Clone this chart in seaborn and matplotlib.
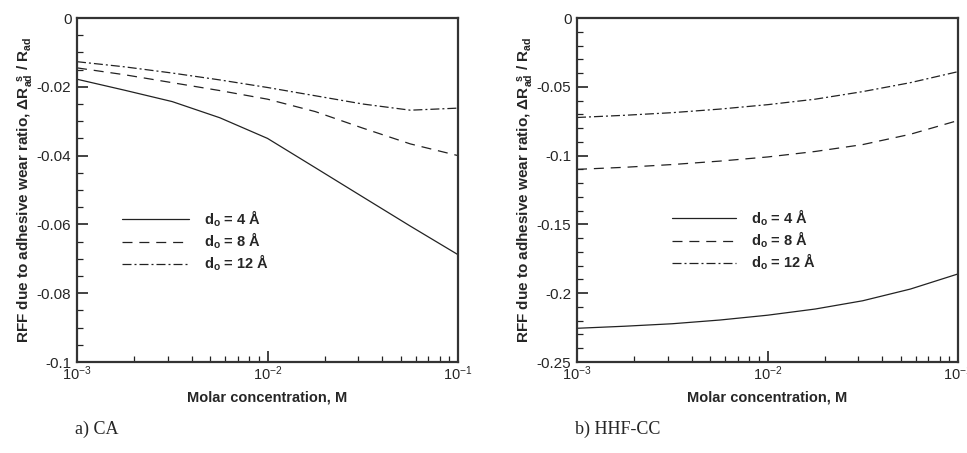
import numpy as np
import pandas as pd
import matplotlib
matplotlib.use("Agg")
import matplotlib.pyplot as plt
import matplotlib.ticker as mticker
import seaborn as sns

# ---------------- data ----------------
conc = [0.001, 0.00178, 0.00316, 0.00562, 0.01, 0.0178, 0.0316, 0.0562, 0.1]
series_labels = ["d$_\\mathbf{o}$ = 4 Å", "d$_\\mathbf{o}$ = 8 Å", "d$_\\mathbf{o}$ = 12 Å"]

ca_d4 = [-0.0178, -0.0210, -0.0243, -0.0290, -0.0350, -0.0435, -0.0520, -0.0605, -0.0688]
ca_d8 = [-0.0145, -0.0165, -0.0188, -0.0211, -0.0236, -0.0272, -0.0320, -0.0366, -0.0400]
ca_d12 = [-0.0127, -0.0142, -0.0160, -0.0180, -0.0202, -0.0226, -0.0250, -0.0268, -0.0262]

hh_d4 = [-0.2255, -0.2240, -0.2222, -0.2195, -0.2160, -0.2115, -0.2055, -0.1970, -0.1860]
hh_d8 = [-0.1100, -0.1085, -0.1065, -0.1040, -0.1010, -0.0970, -0.0920, -0.0845, -0.0745]
hh_d12 = [-0.0723, -0.0707, -0.0688, -0.0662, -0.0630, -0.0590, -0.0535, -0.0470, -0.0390]

ca_yticks = [0, -0.02, -0.04, -0.06, -0.08, -0.1]
ca_yticklabels = ["0", "-0.02", "-0.04", "-0.06", "-0.08", "-0.1"]
hh_yticks = [0, -0.05, -0.1, -0.15, -0.2, -0.25]
hh_yticklabels = ["0", "-0.05", "-0.1", "-0.15", "-0.2", "-0.25"]
xticks = [1e-3, 1e-2, 1e-1]
xticklabels = ["$10^{-3}$", "$10^{-2}$", "$10^{-1}$"]
captions = ["a) CA", "b) HHF-CC"]
xlabel = "Molar concentration, M"
ylabel = "RFF due to adhesive wear ratio, $\\mathbf{\\Delta R_{ad}^{\\ \\ s}}$ / $\\mathbf{R_{ad}}$"


def long_df(a, b, c):
    rows = []
    for lab, vals in zip(series_labels, [a, b, c]):
        for x, y in zip(conc, vals):
            rows.append({"conc": x, "val": y, "series": lab})
    return pd.DataFrame(rows)


df_ca = long_df(ca_d4, ca_d8, ca_d12)
df_hh = long_df(hh_d4, hh_d8, hh_d12)

# ---------------- style ----------------
sns.set_theme(style="white")
plt.rcParams["font.family"] = ["Liberation Sans", "DejaVu Sans"]
plt.rcParams["axes.unicode_minus"] = False
plt.rcParams["mathtext.fontset"] = "custom"
plt.rcParams["mathtext.rm"] = "Liberation Sans"
plt.rcParams["mathtext.it"] = "Liberation Sans"
plt.rcParams["mathtext.bf"] = "Liberation Sans:bold"

fig = plt.figure(figsize=(9.67, 4.53), dpi=100)
ax1 = fig.add_axes([77 / 967, 1 - 362 / 453, 381 / 967, 344 / 453])
ax2 = fig.add_axes([577 / 967, 1 - 362 / 453, 381 / 967, 344 / 453])

palette = {s: "#222222" for s in series_labels}
dashes = {series_labels[0]: "", series_labels[1]: (8, 5.5), series_labels[2]: (7.2, 2.4, 1.6, 2.4)}

panels = [
    (ax1, df_ca, ca_yticks, ca_yticklabels, (-0.1, 0), 0.005, (45 / 381, 0.352), 4.6),
    (ax2, df_hh, hh_yticks, hh_yticklabels, (-0.25, 0), 0.01, (95 / 381, 0.355), 4.4),
]

for i, (ax, df, yt, ytl, ylim, yminor, legpos, hl) in enumerate(panels):
    sns.lineplot(data=df, x="conc", y="val", hue="series", style="series",
                 palette=palette, dashes=dashes, linewidth=0.9, ax=ax,
                 hue_order=series_labels, style_order=series_labels)
    ax.set_xscale("log")
    ax.set_xlim(1e-3, 1e-1)
    ax.set_ylim(*ylim)
    ax.set_xticks(xticks)
    ax.set_xticklabels(xticklabels, fontsize=10.5)
    ax.xaxis.set_minor_locator(mticker.LogLocator(base=10, subs=np.arange(2, 10)))
    ax.xaxis.set_minor_formatter(mticker.NullFormatter())
    ax.set_yticks(yt)
    ax.set_yticklabels(ytl, fontsize=11)
    ax.yaxis.set_minor_locator(mticker.MultipleLocator(yminor))
    ax.tick_params(which="major", direction="in", length=8, width=1.2, color="#222222",
                   left=True, bottom=True, right=False, top=False)
    ax.tick_params(axis="x", which="major", pad=2)
    ax.tick_params(axis="y", which="major", pad=4)
    ax.tick_params(which="minor", direction="in", length=4, width=0.9, color="#222222",
                   left=True, bottom=True, right=False, top=False)
    for sp in ax.spines.values():
        sp.set_color("#333333")
        sp.set_linewidth(1.6)
    ax.set_xlabel(xlabel, fontsize=10.5, fontweight="bold", labelpad=5)
    ax.set_ylabel(ylabel, fontsize=11, fontweight="bold")
    ax.yaxis.set_label_coords(-0.108, 0.5)
    leg = ax.legend(loc="center left", bbox_to_anchor=legpos, frameon=False,
                    handlelength=hl, handletextpad=1.0, borderpad=0, borderaxespad=0,
                    labelspacing=0.12, prop={"weight": "bold", "size": 10.5})
    for h in leg.get_lines():
        h.set_linewidth(0.9)
    fig.text((75 if i == 0 else 575) / 967, 1 - 429 / 453, captions[i],
             fontsize=13, family=["Liberation Serif", "DejaVu Serif"], va="center", ha="left")

fig.savefig("out.png", dpi=100)
